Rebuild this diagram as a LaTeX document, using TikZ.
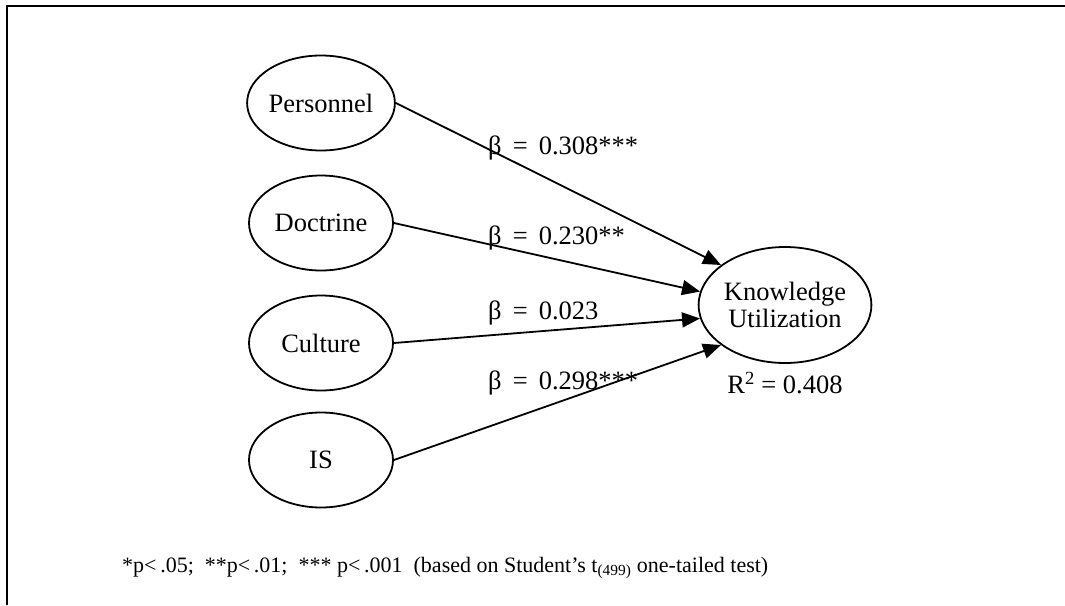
\documentclass[tikz,border=0pt]{standalone}
\usepackage{fontspec}
\setmainfont{Liberation Serif}
\usetikzlibrary{shapes.geometric,arrows.meta}
\newcommand{\bsp}{\hspace{0.42em}}
\begin{document}
\begin{tikzpicture}[x=1pt,y=-1pt,
  latent/.style={draw,ellipse,line width=1.8pt,inner sep=0pt,minimum width=144pt,minimum height=95pt,font=\fontsize{26.5pt}{30pt}\selectfont},
  path/.style={line width=1.8pt,-{Triangle[length=18pt,width=15pt]}},
  lbl/.style={anchor=west,inner sep=0pt,font=\fontsize{26.5pt}{30pt}\selectfont}]
\useasboundingbox (0,0) rectangle (1065,605);
\draw[line width=2.5pt] (7,605) -- (7,6) -- (1065,6);
\node[latent] (P) at (321,103) {Personnel};
\node[latent] (D) at (321,223) {Doctrine};
\node[latent] (C) at (321,343) {Culture};
\node[latent] (I) at (321,460) {IS};
\node[latent,minimum width=160pt,minimum height=116pt,align=center] (K) at (785,305) {Knowledge\\[-3pt]Utilization};
\draw[path] (P.east) -- (K.148);
\draw[path] (D.east) -- (K.171);
\draw[path] (C.east) -- (K.189);
\draw[path] (I.east) -- (K.212);
\node[lbl] (l1) at (488,148) {β\bsp=\bsp0.308***};
\node[lbl] (l2) at (488,238) {β\bsp=\bsp0.230**};
\node[lbl] (l3) at (488,313) {β\bsp=\bsp0.023};
\node[lbl] (l4) at (488,383) {β\bsp=\bsp0.298***};
\node[lbl,anchor=center] (r2) at (785,383) {R\textsuperscript{2} = 0.408};
\node[lbl,font=\fontsize{22pt}{26pt}\selectfont] (foot) at (122,568) {*p<\,.05;\ \ **p<\,.01;\ \ ***\ p<\,.001\ \ (based on Student’s t\textsubscript{(499)} one-tailed test)};
\end{tikzpicture}
\end{document}
